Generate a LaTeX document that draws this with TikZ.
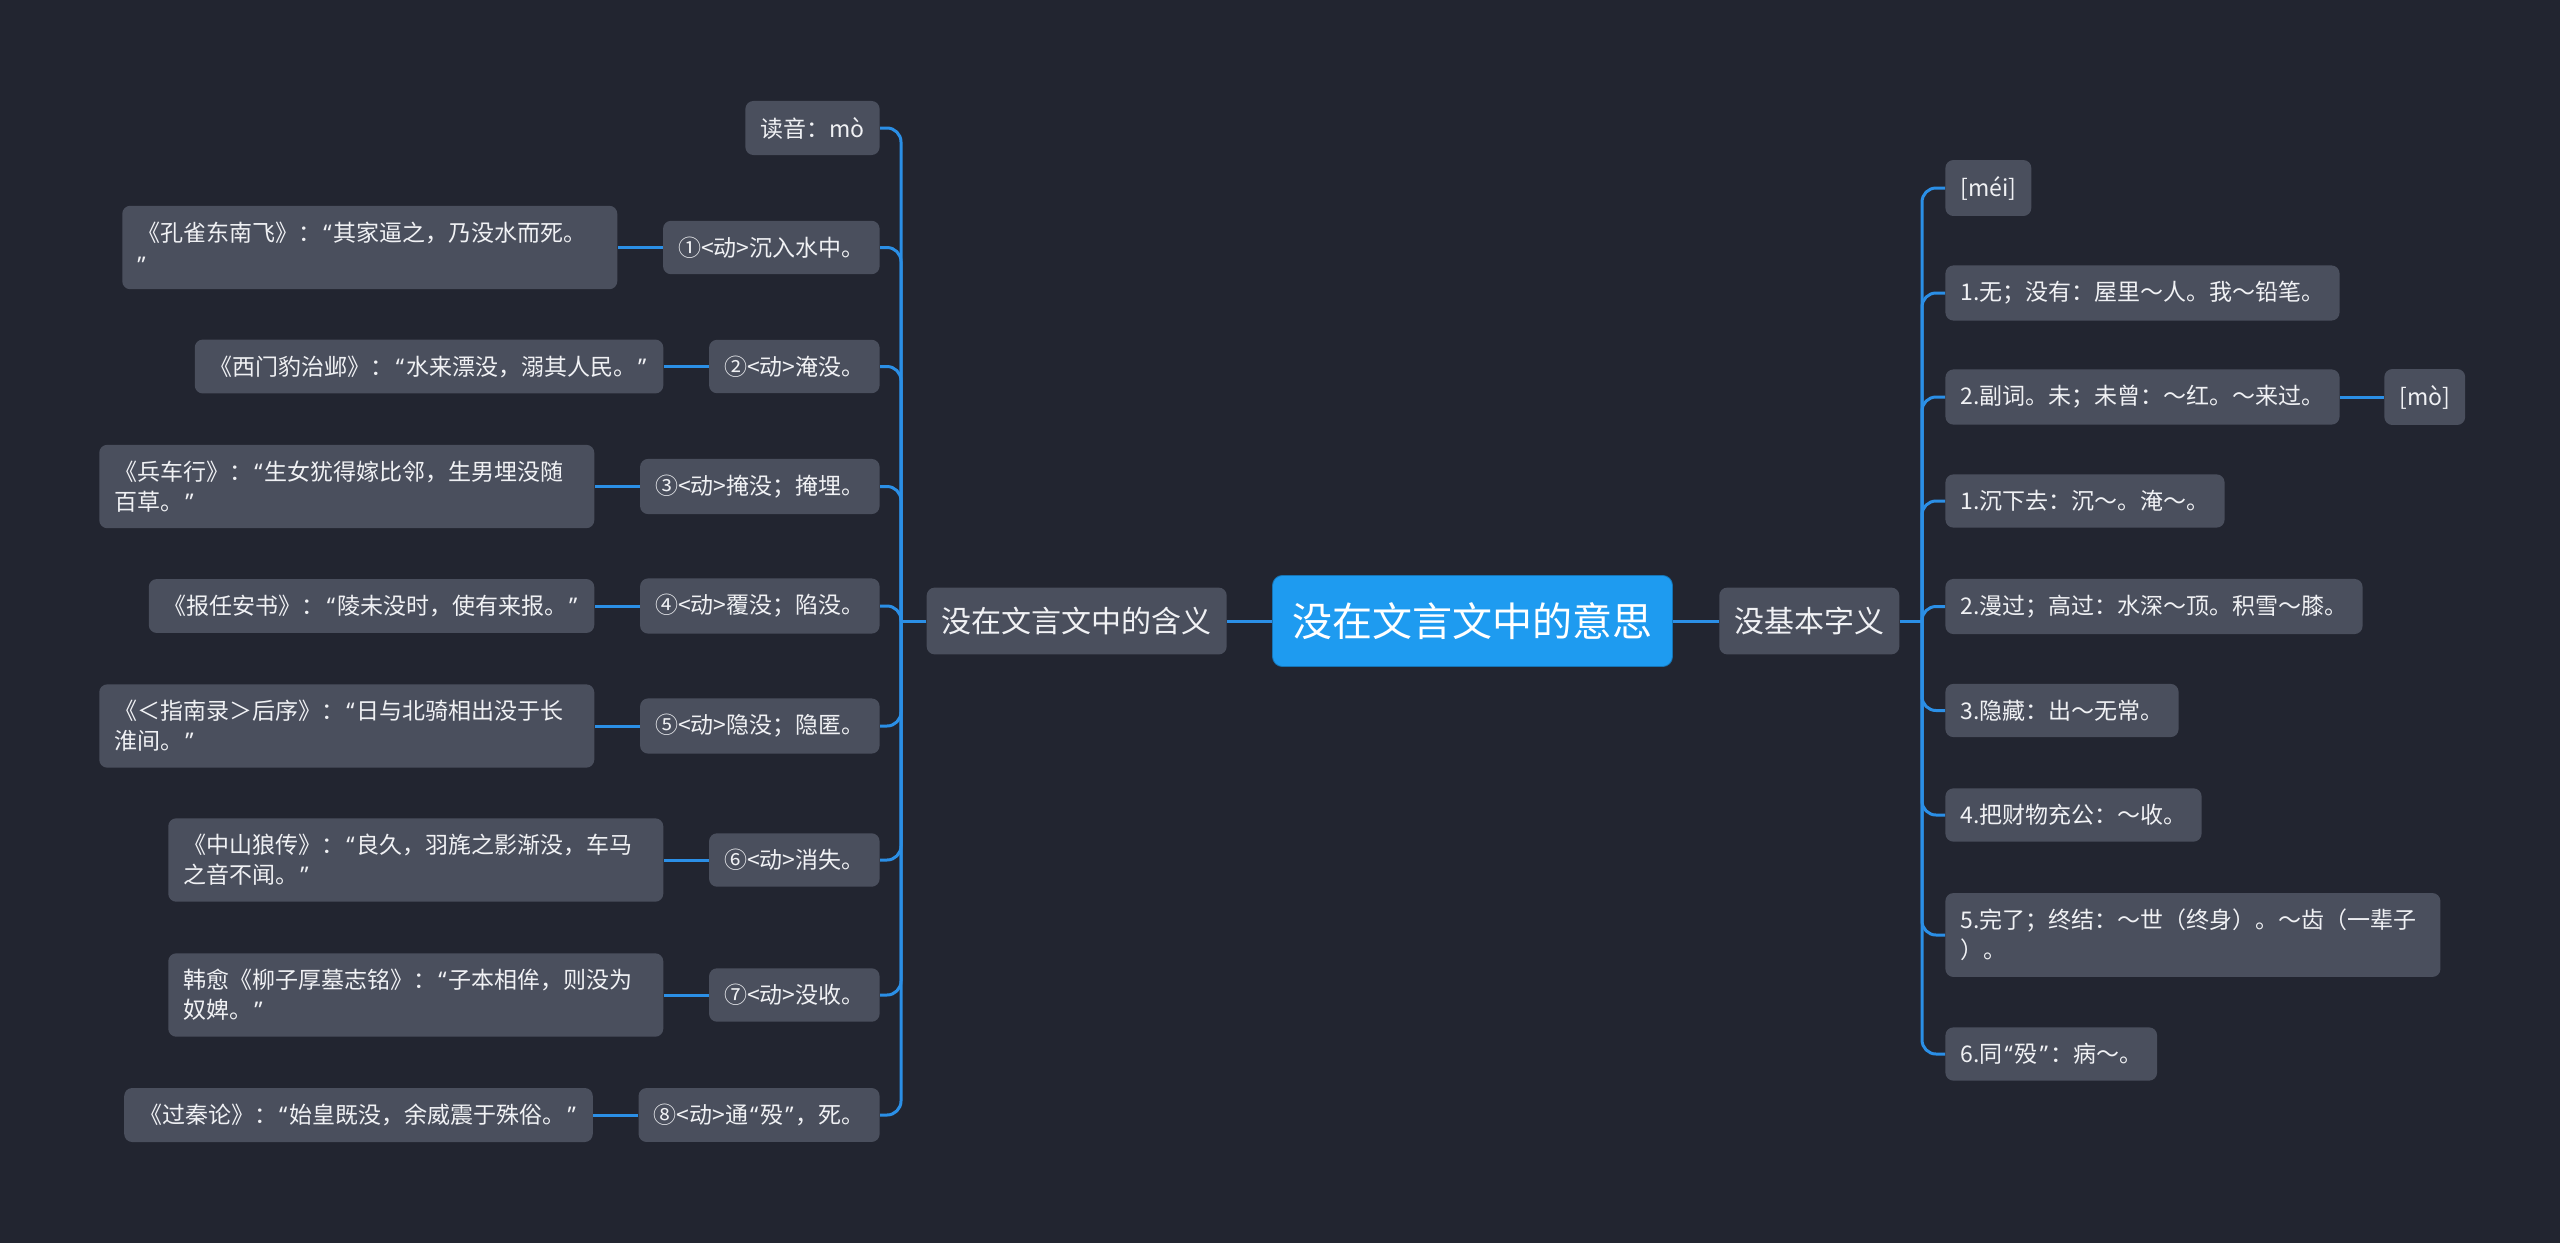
\documentclass[tikz,border=0pt]{standalone}
\usepackage{fontspec}
\setmainfont{Noto Sans CJK SC}
\newfontfamily\latinq{Noto Sans}
\newcommand\oq{\kern1pt{\latinq “}\kern1pt}
\newcommand\cq{\kern1pt{\latinq ”}\kern1pt}
\usepackage{xcolor}
\usetikzlibrary{positioning}
\definecolor{mybg}{RGB}{34,37,48}
\definecolor{mybox}{RGB}{74,79,93}
\definecolor{myblue}{RGB}{43,143,230}
\definecolor{myroot}{RGB}{30,155,240}
\definecolor{mytext}{RGB}{240,241,244}

\begin{document}
\begin{tikzpicture}[x=0.5pt,y=-0.5pt,
  leaf/.style={fill=mybox, rounded corners=4pt, text=mytext, inner xsep=7.5pt, inner ysep=8pt, align=left, font=\fontsize{11.5pt}{15pt}\selectfont},
  wrapbox/.style={leaf, text width=232.5pt},
  branch/.style={leaf, inner ysep=9.75pt, font=\fontsize{15pt}{18pt}\selectfont},
  link/.style={draw=myblue, line width=1.5pt, rounded corners=7pt}]
  \def\busL{901}
  \def\busR{1922}
  \def\xL{880}
  \def\xR{1945}

  %background
  \fill[mybg] (0,0) rectangle (2560,1243);

  %root and main branches
  \node[fill=myroot, draw=myroot!75!black, rounded corners=5pt, text=white, inner xsep=10pt, inner ysep=13.5pt, font=\fontsize{20pt}{24pt}\selectfont] (root) at (1472.5,621) {没在文言文中的意思};
  \node[branch, left=22.5pt of root] (meaning) {没在文言文中的含义};
  \node[branch, right=23pt of root] (basic) {没基本字义};
  \draw[link] (root.west) -- (meaning.east);
  \draw[link] (root.east) -- (basic.west);
  \coordinate (lbus) at (\busL,621);
  \coordinate (rbus) at (\busR,621);
  \draw[link] (meaning.west) -- (lbus);
  \draw[link] (basic.east) -- (rbus);

  %left side: senses
  \foreach \i/\y/\t in {0/128/{读音：mò},
    1/247.5/{①<动>沉入水中。},
    2/366.5/{②<动>淹没。},
    3/486.5/{③<动>掩没；掩埋。},
    4/606/{④<动>覆没；陷没。},
    5/726/{⑤<动>隐没；隐匿。},
    6/860/{⑥<动>消失。},
    7/995/{⑦<动>没收。},
    8/1115/{⑧<动>通\oq 殁\cq ，死。}}
  {
    \node[leaf, anchor=east] (m\i) at (\xL,\y) {\t};
    \draw[link] (lbus) |- (m\i.east);
  }

  %left side: quotations
  \foreach \i/\s/\t in {1/wrapbox/{《孔雀东南飞》：\oq 其家逼之，乃没水而死。\\\cq},
    2/leaf/{《西门豹治邺》：\oq 水来漂没，溺其人民。\cq},
    3/wrapbox/{《兵车行》：\oq 生女犹得嫁比邻，生男埋没随\\百草。\cq},
    4/leaf/{《报任安书》：\oq 陵未没时，使有来报。\cq},
    5/wrapbox/{《＜指南录＞后序》：\oq 日与北骑相出没于长\\淮间。\cq},
    6/wrapbox/{《中山狼传》：\oq 良久，羽旄之影渐没，车马\\之音不闻。\cq},
    7/wrapbox/{韩愈《柳子厚墓志铭》：\oq 子本相侔，则没为\\奴婢。\cq},
    8/leaf/{《过秦论》：\oq 始皇既没，余威震于殊俗。\cq}}
  {
    \node[\s, left=22.5pt of m\i] (q\i) {\t};
    \draw[link] (m\i.west) -- (q\i.east);
  }

  %right side: basic meanings
  \foreach \i/\y/\s/\t in {0/188/leaf/{[méi]},
    1/293/leaf/{1.无；没有：屋里～人。我～铅笔。},
    2/397/leaf/{2.副词。未；未曾：～红。～来过。},
    3/501/leaf/{1.沉下去：沉～。淹～。},
    4/606.5/leaf/{2.漫过；高过：水深～顶。积雪～膝。},
    5/710.5/leaf/{3.隐藏：出～无常。},
    6/815/leaf/{4.把财物充公：～收。},
    7/935/wrapbox/{5.完了；终结：～世（终身）。～齿（一辈子\\）。},
    8/1054/leaf/{6.同\oq 殁\cq ：病～。}}
  {
    \node[\s, anchor=west] (r\i) at (\xR,\y) {\t};
    \draw[link] (rbus) |- (r\i.west);
  }
  \node[leaf, right=22pt of r2] (mo) {[mò]};
  \draw[link] (r2.east) -- (mo.west);
\end{tikzpicture}
\end{document}
